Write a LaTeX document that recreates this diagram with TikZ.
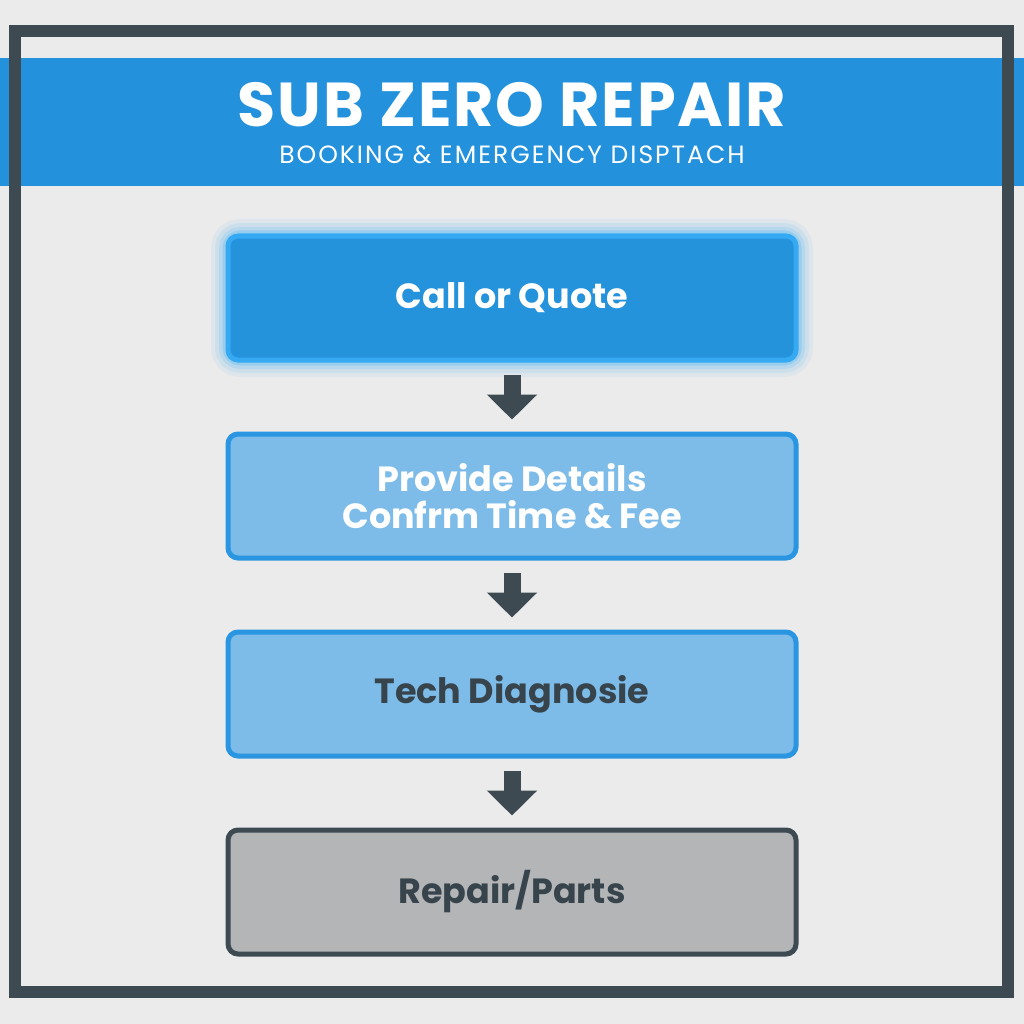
\documentclass[tikz,border=0pt]{standalone}
\usepackage{fontspec}
\setmainfont{Poppins}
\usetikzlibrary{positioning,arrows.meta}
\definecolor{bgpaper}{HTML}{EBEBEB}
\definecolor{slate}{HTML}{3E4A52}
\definecolor{banner}{HTML}{2391DC}
\definecolor{callfill}{HTML}{2592DC}
\definecolor{callrim}{HTML}{35AAF3}
\definecolor{lightfill}{HTML}{7DBBE8}
\definecolor{lightrim}{HTML}{2A95E0}
\definecolor{greyfill}{HTML}{B3B5B7}
\definecolor{darktext}{HTML}{37444C}
\begin{document}
\begin{tikzpicture}[x=1pt,y=-1pt,
    stepbox/.style={draw,line width=5pt,rounded corners=10pt,minimum width=568pt,
      minimum height=124pt,font=\bfseries\fontsize{35}{37}\selectfont,align=center},
    flowarrow/.style={slate,line width=17pt,-{Triangle[width=49pt,length=25pt]},
      shorten <=12pt,shorten >=12pt},
    node distance=69pt]
  \useasboundingbox (0,0) rectangle (1024,1024);
  \fill[bgpaper] (0,0) rectangle (1024,1024);
  \fill[banner] (0,58) rectangle (1024,186);
  \draw[slate,line width=12pt] (15,31) rectangle (1008,992);
  \node[white,font=\bfseries\fontsize{62}{66}\selectfont\addfontfeature{LetterSpace=3}] (title)
    at (512,105) {SUB ZERO REPAIR};
  \node[white,font=\fontsize{25}{28}\selectfont\addfontfeature{LetterSpace=8}] (subtitle)
    at (512,155) {BOOKING \& EMERGENCY DISPTACH};
  % glow round the first step
  \foreach \w/\o in {34/0.07,26/0.10,18/0.14,11/0.22}
    \draw[callrim,line width=\w pt,opacity=\o,rounded corners=12pt] (228,236) rectangle (796,360);
  \node[stepbox,fill=callfill,draw=callrim,text=white] (call) at (512,298) {Call or Quote};
  \node[stepbox,fill=lightfill,draw=lightrim,text=white,below=of call] (details)
    {Provide Details\\Confrm Time \& Fee};
  \node[stepbox,fill=lightfill,draw=lightrim,text=darktext,below=of details] (diagnose) {Tech Diagnosie};
  \node[stepbox,fill=greyfill,draw=slate,text=darktext,below=of diagnose] (repair) {Repair/Parts};
  \draw[flowarrow] (call) -- (details);
  \draw[flowarrow] (details) -- (diagnose);
  \draw[flowarrow] (diagnose) -- (repair);
\end{tikzpicture}
\end{document}
